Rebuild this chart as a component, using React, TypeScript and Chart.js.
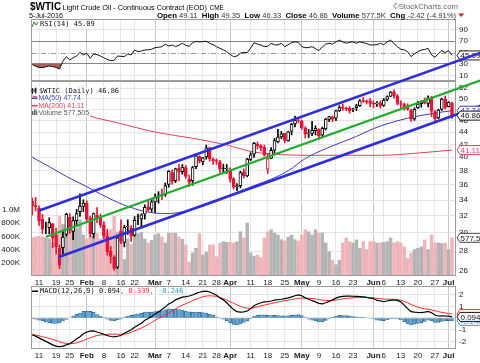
import React, { useEffect, useRef } from 'react';
import { Chart, registerables } from 'chart.js';

Chart.register(...registerables);

const FONT = 'Arial, "Liberation Sans", sans-serif';
const MONO = '"DejaVu Sans Mono", "Liberation Mono", monospace';

// ---------------- data (one entry per trading session, 7-Jan-2016 .. 5-Jul-2016) ----------------
const tickDays = [2, 7, 11, 16, 21, 26, 30, 36, 40, 45, 50, 54, 58, 64, 69, 74, 79, 84, 89, 94, 100, 103, 108, 113, 118, 122];
const tickLabels = ['11', '19', '25', 'Feb', '8', '16', '22', 'Mar', '7', '14', '21', '28', 'Apr', '11', '18', '25', 'May', '9', '16', '23', 'Jun', '6', '13', '20', '27', 'Jul'];

const opens = [
  33.86, 33.30, 32.94, 31.60, 30.48, 30.61, 31.05, 29.79, 28.33, 28.36, 29.84, 31.83, 30.17, 31.42, 32.53, 33.19,
  33.61, 31.70, 29.93, 32.10, 31.75, 30.95, 29.65, 28.00, 27.36, 26.35, 30.25, 28.94, 30.71, 30.57, 29.74, 31.88, 31.63, 32.22, 33.14, 32.85,
  33.75, 34.50, 34.70, 34.70, 36.06, 37.73, 36.61, 38.34, 37.87, 38.46, 36.82, 36.60, 38.60, 40.14, 39.32, 40.06, 41.50, 39.68, 39.51, 39.30, 38.37, 38.30,
  38.08, 36.88, 35.76, 35.91, 37.77, 37.25, 39.66, 40.46, 42.01, 41.83, 41.52, 38.24, 39.81, 41.08, 42.46, 43.22, 43.82, 42.58, 44.17, 45.40, 46.00,
  45.86, 44.74, 43.67, 43.79, 44.26, 44.50, 43.51, 44.57, 46.20, 46.62, 46.40, 47.73, 48.40, 48.18, 48.19, 47.97, 48.30, 48.67, 49.61, 49.50, 49.58,
  49.16, 49.00, 49.18, 48.69, 49.82, 50.40, 51.28, 50.54, 49.05, 48.86, 48.38, 47.84, 46.29, 48.30, 49.06, 49.34, 49.07, 50.09, 47.60, 46.43, 47.97, 49.87,
  48.50, 49.11,
];
const highs = [
  34.26, 34.34, 33.25, 32.21, 31.25, 31.78, 31.11, 30.54, 28.65, 30.25, 32.35, 32.29, 31.89, 32.80, 34.82, 34.03,
  33.89, 31.97, 32.35, 33.05, 32.24, 31.31, 30.42, 28.50, 27.52, 29.50, 31.53, 30.90, 31.53, 30.86, 31.92, 32.22, 32.28, 33.39, 34.04, 34.06,
  34.76, 35.10, 35.44, 36.27, 38.00, 38.14, 38.38, 38.98, 38.91, 38.78, 37.38, 38.64, 40.56, 40.23, 40.00, 41.90, 41.50, 39.93, 39.76, 39.53, 38.96, 38.92,
  38.44, 37.01, 36.20, 37.95, 38.27, 39.83, 40.70, 42.35, 42.40, 41.98, 41.89, 40.54, 41.48, 42.97, 44.49, 44.13, 43.82, 44.14, 45.49, 46.78, 46.49,
  46.05, 44.92, 44.47, 45.85, 45.08, 44.56, 44.86, 46.37, 46.75, 46.79, 47.86, 48.67, 48.98, 48.39, 48.49, 48.21, 48.92, 49.80, 50.21, 49.74, 50.00,
  49.55, 49.43, 49.58, 50.00, 50.53, 51.34, 51.67, 50.78, 49.58, 49.15, 49.03, 48.02, 48.27, 49.48, 49.58, 50.11, 50.50, 50.45, 47.77, 48.01, 50.06, 50.49,
  49.40, 49.35,
];
const lows = [
  32.10, 32.64, 30.88, 29.93, 29.93, 29.91, 28.36, 27.67, 26.19, 27.72, 29.63, 29.95, 29.25, 30.70, 31.94, 32.53,
  31.41, 29.55, 29.43, 31.20, 30.63, 29.35, 27.57, 26.75, 26.05, 26.20, 28.81, 28.45, 29.83, 29.05, 29.62, 30.95, 30.56, 31.61, 32.56, 32.50,
  32.43, 33.60, 34.04, 34.48, 35.69, 36.11, 36.31, 36.57, 37.50, 36.91, 35.78, 35.95, 38.30, 39.13, 38.84, 39.71, 39.40, 38.93, 38.91, 37.76, 37.75, 37.61,
  36.37, 35.44, 35.24, 35.61, 36.96, 37.13, 39.49, 39.96, 41.26, 40.99, 40.16, 37.61, 39.80, 40.63, 42.26, 42.93, 42.26, 42.51, 43.54, 44.87, 45.58,
  44.47, 43.03, 43.10, 43.41, 43.55, 42.80, 43.21, 44.37, 45.78, 45.78, 45.96, 47.61, 47.80, 47.72, 47.30, 47.55, 47.75, 48.51, 49.27, 48.97, 48.44,
  48.28, 48.51, 48.24, 48.53, 49.53, 50.35, 50.09, 48.80, 48.29, 47.83, 47.81, 45.83, 46.02, 48.15, 48.40, 48.98, 48.43, 46.69, 45.83, 46.32, 47.79, 48.05,
  48.45, 46.33,
];
const closes = [
  33.27, 33.16, 31.41, 30.44, 30.48, 31.20, 29.42, 28.46, 26.55, 29.53, 32.19, 30.34, 31.45, 32.30, 33.22, 33.62,
  31.62, 29.88, 32.28, 31.72, 30.89, 29.69, 27.94, 27.45, 26.21, 29.44, 29.04, 30.66, 30.77, 29.64, 31.48, 31.87, 32.15, 33.07, 32.78, 33.75,
  34.40, 34.66, 34.57, 35.92, 37.90, 36.50, 38.29, 37.84, 38.50, 37.18, 36.34, 38.46, 40.20, 39.44, 39.91, 41.45, 39.79, 39.46, 39.39, 38.28, 38.32, 38.34,
  36.79, 35.70, 35.89, 37.75, 37.26, 39.72, 40.36, 42.17, 41.76, 41.50, 40.36, 39.78, 41.08, 42.63, 43.18, 43.73, 42.64, 44.04, 45.33, 46.03, 45.92,
  44.78, 43.65, 43.78, 44.32, 44.66, 43.44, 44.66, 46.23, 46.70, 46.21, 47.72, 48.31, 48.19, 48.12, 47.75, 48.08, 48.62, 49.56, 49.48, 49.33, 49.10,
  49.01, 49.17, 48.62, 49.69, 50.36, 51.23, 50.56, 49.07, 48.88, 48.49, 48.01, 46.21, 47.98, 48.96, 49.37, 49.13, 50.11, 47.64, 46.33, 47.85, 49.88, 48.33,
  49.28, 46.86,
];
const volumesK = [
  580, 590, 600, 590, 580, 560, 500, 330, 900, 780, 700, 820, 700, 720, 850, 620,
  560, 600, 800, 640, 560, 620, 660, 700, 900, 660, 560, 250, 560, 480, 620, 640, 660, 560, 500, 540,
  620, 640, 590, 500, 650, 650, 650, 590, 555, 470, 210, 350, 420, 640, 320, 360, 470, 470, 290, 500, 520, 510,
  510, 500, 520, 670, 575, 800, 350, 300, 320, 280, 575, 670, 700, 650, 620, 550, 530, 590, 620, 550, 530,
  620, 700, 670, 620, 700, 650, 650, 500, 370, 240, 170, 240, 500, 575, 520, 500, 545, 420, 520, 400, 520,
  520, 500, 500, 510, 520, 575, 500, 520, 500, 440, 270, 350, 400, 420, 440, 545, 400, 620, 500, 500, 490, 500,
  400, 577.5,
];
const rsi = [
  29, 26, 24, 23.5, 25, 26.5, 25.5, 24, 21, 35,
  43, 37, 41, 44, 50.5, 46, 49, 40, 47.5, 46.5,
  44, 41, 38, 35.8, 36.5, 44, 43.5, 43, 47.6, 46,
  54.7, 51.7, 53, 54.7, 55, 56, 58.7, 59.5, 60.5, 65,
  61.7, 63.5, 60.5, 63, 66.5, 63, 61, 67.5, 70, 68.8,
  69.5, 70, 66.5, 64, 60.5, 57.6, 55, 51.7, 47, 43,
  44, 49, 50.6, 50, 58, 67.5, 65, 63.5, 60.5, 61,
  66.5, 64, 63.5, 66.5, 60.5, 64, 67.5, 69, 68, 60.5,
  58.7, 59, 60.5, 57, 53.5, 60, 65, 66.5, 65, 69,
  72, 69, 66.5, 68, 69, 66.5, 69, 67.5, 66, 63.5,
  63.5, 64, 66.5, 64, 69, 72, 66, 60.5, 56, 54.7,
  51.7, 43, 48, 51.7, 54.7, 55.5, 57.6, 46, 42, 48, 53.5, 50, 53.5, 45.09,
];
const macd = [
  -1.45, -1.55, -1.7, -1.85, -2.0, -2.15, -2.3, -2.4, -2.45, -2.4,
  -2.3, -2.2, -2.0, -1.8, -1.6, -1.35, -1.2, -1.12, -1.1, -1.2,
  -1.28, -1.4, -1.5, -1.58, -1.62, -1.56, -1.5, -1.3, -1.15, -1.0,
  -0.8, -0.62, -0.45, -0.2, -0.05, 0.12, 0.35, 0.52, 0.72, 0.95,
  1.2, 1.35, 1.55, 1.68, 1.78, 1.82, 1.88, 1.97, 2.1, 2.2,
  2.28, 2.3, 2.22, 2.1, 1.95, 1.72, 1.55, 1.3, 1.0, 0.72,
  0.55, 0.5, 0.52, 0.6, 0.8, 1.05, 1.2, 1.3, 1.38, 1.4,
  1.45, 1.52, 1.56, 1.6, 1.66, 1.72, 1.8, 1.9, 1.97, 1.9,
  1.72, 1.6, 1.48, 1.38, 1.25, 1.2, 1.3, 1.42, 1.55, 1.7,
  1.8, 1.84, 1.87, 1.88, 1.86, 1.84, 1.82, 1.8, 1.76, 1.7,
  1.66, 1.5, 1.45, 1.4, 1.45, 1.52, 1.54, 1.5, 1.38, 1.1,
  0.8, 0.55, 0.5, 0.47, 0.46, 0.5, 0.56, 0.45, 0.25, 0.17,
  0.18, 0.17, 0.16, 0.094,
];
const signal = [
  -1.37, -1.45, -1.52, -1.6, -1.67, -1.74, -1.83, -1.93, -2.03, -2.12,
  -2.18, -2.2, -2.18, -2.12, -2.03, -1.92, -1.8, -1.68, -1.58, -1.5,
  -1.45, -1.42, -1.4, -1.38, -1.38, -1.39, -1.4, -1.38, -1.32, -1.22,
  -1.1, -0.98, -0.85, -0.7, -0.55, -0.38, -0.2, -0.05, 0.1, 0.26,
  0.42, 0.6, 0.78, 0.95, 1.1, 1.22, 1.35, 1.48, 1.6, 1.72,
  1.82, 1.88, 1.9, 1.88, 1.84, 1.76, 1.65, 1.53, 1.4, 1.26,
  1.12, 1.0, 0.9, 0.84, 0.83, 0.88, 0.95, 1.03, 1.1, 1.17,
  1.24, 1.3, 1.36, 1.42, 1.48, 1.53, 1.58, 1.63, 1.68, 1.7,
  1.7, 1.69, 1.67, 1.63, 1.58, 1.53, 1.5, 1.49, 1.5, 1.53,
  1.58, 1.63, 1.67, 1.7, 1.73, 1.75, 1.77, 1.77, 1.76, 1.74,
  1.72, 1.68, 1.65, 1.62, 1.6, 1.6, 1.6, 1.58, 1.52, 1.42,
  1.3, 1.15, 1.03, 0.93, 0.85, 0.79, 0.75, 0.7, 0.62, 0.55,
  0.48, 0.43, 0.38, 0.339,
];
// moving averages read at every 5th session
const ma50Days = [0, 5, 10, 15, 20, 25, 30, 35, 40, 45, 50, 55, 60, 65, 70, 75, 80, 85, 90, 95, 100, 105, 110, 115, 120, 123];
const ma50 = [40.0, 38.6, 37.2, 36.0, 34.8, 33.7, 32.9, 32.4, 32.3, 32.6, 33.2, 34.0, 35.0, 35.9, 36.8, 38.0, 39.8, 41.1, 42.2, 43.3, 44.6, 45.6, 46.4, 47.0, 47.5, 47.74];
const ma200Days = [0, 10, 16, 25, 37, 47, 57, 64, 70, 82, 102, 112, 123];
const ma200 = [50.5, 49.0, 47.0, 45.6, 43.9, 43.0, 41.9, 40.9, 40.5, 40.3, 40.3, 40.6, 41.11];
// trend channel anchors: [session, price]
const upperChannel = [[2.3, 32.7], [101.9, 51.9]];
const midChannel = [[4.25, 29.6], [101.9, 46.7]];
const lowerChannel = [[8.0, 27.4], [101.9, 42.4]];

const priceTicks = [26, 28, 30, 32, 34, 36, 38, 40, 42, 44, 46, 48, 50, 52];
const volumeTicks = [200000, 400000, 600000, 800000, 1000000];
const rsiTicks = [10, 30, 50, 70, 90];
const macdTicks = [-2, -1, 0, 1, 2];

const headerLabels = ['Open', 'High', 'Low', 'Close', 'Volume', 'Chg'];
const headerValues = ['49.11', '49.35', '46.33', '46.86', '577.5K', '-2.42 (-4.91%)'];

// ---------------- styling ----------------
const X_MIN = -0.35;
const X_MAX = 124.17;
const RED = 'rgb(226, 22, 52)';
const BLUE_CH = 'rgb(46, 46, 220)';
const GREEN_CH = 'rgb(34, 172, 46)';
const MA50_C = 'rgb(60, 60, 185)';
const MA200_C = 'rgb(228, 62, 90)';
const VOL_DOWN = 'rgb(238, 180, 186)';
const VOL_UP = 'rgb(180, 180, 180)';

const isMonth = (v: any) => {
  const k = tickDays.indexOf(v);
  return k >= 0 && /[A-Za-z]/.test(tickLabels[k]);
};
const isDown = (i: number) => (i > 0 ? closes[i] < closes[i - 1] : closes[i] < opens[i]);
const candleColor = (i: number) => (isDown(i) ? RED : '#000');
const candleFill = (i: number) => (closes[i] < opens[i] ? candleColor(i) : '#fff');

function xAxis(show: boolean, h: number): any {
  return {
    type: 'linear',
    min: X_MIN,
    max: X_MAX,
    offset: false,
    afterBuildTicks: (s: any) => { s.ticks = tickDays.map((v) => ({ value: v })); },
    afterFit: (s: any) => { s.height = h; s.paddingLeft = 0; s.paddingRight = 0; },
    ticks: {
      display: show,
      autoSkip: false,
      maxRotation: 0,
      minRotation: 0,
      padding: 2,
      color: '#1a1a1a',
      callback: (v: any) => { const k = tickDays.indexOf(v); return k >= 0 ? tickLabels[k] : ''; },
      font: (c: any) => ({ family: FONT, size: 8, weight: isMonth(c.tick && c.tick.value) ? 'bold' : 'normal' }),
    },
    grid: { offset: false, drawTicks: false, color: (c: any) => (isMonth(c.tick && c.tick.value) ? '#c8c8c8' : '#e6e6e6') },
    border: { display: false },
  };
}

function rightAxis(min: number, max: number, ticks: number[], extra: any = {}): any {
  return {
    type: 'linear',
    position: 'right',
    min,
    max,
    afterBuildTicks: (s: any) => { s.ticks = ticks.map((v) => ({ value: v })); },
    afterFit: (s: any) => { s.width = 24; s.paddingTop = 0; s.paddingBottom = 0; },
    ticks: { padding: 3, color: '#1a1a1a', font: { family: FONT, size: 8 }, callback: (v: any) => String(v) },
    grid: { drawTicks: false, color: '#e4e4e4' },
    border: { display: false },
    ...extra,
  };
}

function frame(chart: any) {
  const { ctx, chartArea: a } = chart;
  ctx.save();
  ctx.strokeStyle = '#9c9c9c';
  ctx.lineWidth = 1;
  ctx.strokeRect(Math.round(a.left) + 0.5, Math.round(a.top) + 0.5, Math.round(a.right - a.left) - 1, Math.round(a.bottom - a.top) - 1);
  ctx.restore();
}

function drawTag(ctx: any, y: number, text: string, stroke: string, color: string) {
  const x = 457;
  const h = 9;
  ctx.save();
  ctx.beginPath();
  ctx.moveTo(x, y);
  ctx.lineTo(x + 3, y - h / 2);
  ctx.lineTo(483, y - h / 2);
  ctx.lineTo(483, y + h / 2);
  ctx.lineTo(x + 3, y + h / 2);
  ctx.closePath();
  ctx.fillStyle = '#fff';
  ctx.fill();
  ctx.strokeStyle = stroke;
  ctx.lineWidth = 1;
  ctx.stroke();
  ctx.fillStyle = color;
  ctx.font = `8px ${FONT}`;
  ctx.textBaseline = 'middle';
  ctx.textAlign = 'left';
  ctx.fillText(text, x + 3.5, y + 0.5);
  ctx.restore();
}

function textWithBg(ctx: any, text: string, x: number, y: number, color: string, font: string) {
  ctx.font = font;
  const w = ctx.measureText(text).width;
  ctx.fillStyle = '#fff';
  ctx.fillRect(x - 1, y - 3.5, w + 2, 7.5);
  ctx.fillStyle = color;
  ctx.fillText(text, x, y);
  return w;
}

// ---------------- plugins ----------------
const rsiPlugin = {
  id: 'rsiPanel',
  beforeDatasetsDraw(chart: any) {
    const { ctx, chartArea: a } = chart;
    const y = Math.round(chart.scales.y.getPixelForValue(50)) + 0.5;
    ctx.save();
    ctx.setLineDash([5, 2, 1, 2]);
    ctx.strokeStyle = '#9a9a9a';
    ctx.lineWidth = 1;
    ctx.beginPath();
    ctx.moveTo(a.left, y);
    ctx.lineTo(a.right, y);
    ctx.stroke();
    ctx.restore();
  },
  afterDatasetsDraw(chart: any) {
    const { ctx } = chart;
    frame(chart);
    ctx.save();
    ctx.textBaseline = 'middle';
    ctx.strokeStyle = '#2a7a2a';
    ctx.lineWidth = 1;
    ctx.beginPath();
    ctx.moveTo(32, 27); ctx.lineTo(34, 22); ctx.lineTo(36, 25); ctx.lineTo(38, 22);
    ctx.stroke();
    textWithBg(ctx, 'RSI(14) 45.09', 40, 24.5, '#111', `7px ${MONO}`);
    ctx.restore();
  },
  afterDraw(chart: any) {
    const { ctx } = chart;
    ctx.save();
    ctx.textBaseline = 'alphabetic';
    ctx.textAlign = 'left';
    ctx.fillStyle = '#000';
    ctx.font = `bold 10px ${FONT}`;
    ctx.fillText('$WTIC', 30, 10);
    let x = 30 + ctx.measureText('$WTIC').width + 1.5;
    ctx.font = `7.3px ${FONT}`;
    const t = 'Light Crude Oil - Continuous Contract (EOD)';
    ctx.fillText(t, x, 10);
    x += ctx.measureText(t).width + 2.5;
    ctx.font = `6.5px ${FONT}`;
    ctx.fillText('CME', x, 10);
    ctx.fillStyle = '#666';
    ctx.font = `7.8px ${FONT}`;
    ctx.textAlign = 'right';
    ctx.fillText('\u00A9StockCharts.com', 458, 9.3);
    ctx.textAlign = 'left';
    ctx.fillStyle = '#000';
    ctx.font = `7.2px ${FONT}`;
    ctx.fillText('5-Jul-2016', 29, 17.5);
    let hx = 157;
    headerLabels.forEach((lab, k) => {
      ctx.font = `bold 7.8px ${FONT}`;
      ctx.fillStyle = '#000';
      ctx.fillText(lab, hx, 17.5);
      hx += ctx.measureText(lab + ' ').width;
      ctx.font = `7.6px ${FONT}`;
      ctx.fillStyle = '#333';
      ctx.fillText(headerValues[k], hx, 17.5);
      hx += ctx.measureText(headerValues[k] + '  ').width;
    });
    ctx.fillStyle = RED;
    ctx.beginPath();
    ctx.moveTo(hx - 2, 13.5); ctx.lineTo(hx + 4, 13.5); ctx.lineTo(hx + 1, 17);
    ctx.closePath();
    ctx.fill();
    ctx.restore();
    drawTag(ctx, chart.scales.y.getPixelForValue(rsi[rsi.length - 1]), '45.09', '#222', '#111');
  },
};

const pricePlugin = {
  id: 'pricePanel',
  afterDatasetsDraw(chart: any) {
    const { ctx } = chart;
    frame(chart);
    ctx.save();
    ctx.textBaseline = 'middle';
    ctx.textAlign = 'left';
    // candle icon
    ctx.fillStyle = '#222';
    ctx.fillRect(32, 88, 1, 6); ctx.fillRect(31.5, 89, 2, 3);
    ctx.fillRect(35, 87.5, 1, 6); ctx.fillRect(34.5, 88.5, 2, 4);
    textWithBg(ctx, '$WTIC (Daily) 46.86', 39, 91, '#111', `7px ${MONO}`);
    ctx.fillStyle = MA50_C; ctx.fillRect(32, 97.5, 6, 1.5);
    textWithBg(ctx, 'MA(50) 47.74', 38.5, 98.3, MA50_C, `7px ${FONT}`);
    ctx.fillStyle = MA200_C; ctx.fillRect(32, 105, 6, 1.5);
    textWithBg(ctx, 'MA(200) 41.11', 38.5, 105.6, MA200_C, `7px ${FONT}`);
    ctx.fillStyle = '#666';
    ctx.fillRect(32, 111, 1.5, 4); ctx.fillRect(34, 109.5, 1.5, 5.5); ctx.fillRect(36, 110.5, 1.5, 4.5);
    textWithBg(ctx, 'Volume 577,505', 38.5, 112.9, '#555', `7px ${FONT}`);
    ctx.restore();
  },
  afterDraw(chart: any) {
    const { ctx } = chart;
    const xs = chart.scales.x;
    const ys = chart.scales.y;
    const lines: any[] = [[upperChannel, BLUE_CH, 2.6], [midChannel, GREEN_CH, 2.2], [lowerChannel, BLUE_CH, 2.6]];
    ctx.save();
    ctx.lineCap = 'round';
    for (const [pts, color, w] of lines) {
      const x1 = xs.getPixelForValue(pts[0][0]);
      const y1 = ys.getPixelForValue(pts[0][1]);
      const x2 = xs.getPixelForValue(pts[1][0]);
      const y2 = ys.getPixelForValue(pts[1][1]);
      const xe = chart.width;
      const ye = y1 + ((y2 - y1) / (x2 - x1)) * (xe - x1);
      ctx.beginPath();
      ctx.moveTo(x1, y1);
      ctx.lineTo(xe, ye);
      ctx.strokeStyle = color;
      ctx.lineWidth = w;
      ctx.stroke();
    }
    ctx.restore();
    drawTag(ctx, ys.getPixelForValue(ma50[ma50.length - 1]), '47.74', MA50_C, MA50_C);
    drawTag(ctx, ys.getPixelForValue(closes[closes.length - 1]), '46.86', '#111', '#111');
    drawTag(ctx, ys.getPixelForValue(ma200[ma200.length - 1]), '41.11', MA200_C, MA200_C);
    drawTag(ctx, chart.scales.yv.getPixelForValue(volumesK[volumesK.length - 1] * 1000), '577,505', '#444', '#222');
  },
};

const macdPlugin = {
  id: 'macdPanel',
  afterDatasetsDraw(chart: any) {
    const { ctx } = chart;
    frame(chart);
    ctx.save();
    ctx.textBaseline = 'middle';
    ctx.textAlign = 'left';
    ctx.fillStyle = '#000';
    ctx.fillRect(32, 10.5, 6, 1.5);
    ctx.font = `7px ${MONO}`;
    let x = 40;
    const parts: any[] = [['MACD(12,26,9) 0.094', '#111'], [', 0.339', '#ff3030'], [', -0.246', '#3399cc']];
    for (const [t, c] of parts) {
      ctx.fillStyle = c;
      ctx.fillText(t, x, 11.3);
      x += ctx.measureText(t).width;
    }
    ctx.restore();
  },
  afterDraw(chart: any) {
    const { ctx } = chart;
    const ys = chart.scales.y;
    drawTag(ctx, ys.getPixelForValue(signal[signal.length - 1]), '0.339', '#ff3030', '#ff3030');
    drawTag(ctx, ys.getPixelForValue(macd[macd.length - 1] - signal[signal.length - 1]), '-0.246', '#3399cc', '#3399cc');
    drawTag(ctx, ys.getPixelForValue(macd[macd.length - 1]), '0.094', '#111', '#111');
  },
};

const common: any = {
  animation: false,
  responsive: false,
  devicePixelRatio: 1,
  events: [],
  plugins: { legend: { display: false }, tooltip: { enabled: false }, title: { display: false } },
};

export default function App() {
  const rsiRef = useRef<HTMLCanvasElement>(null);
  const priceRef = useRef<HTMLCanvasElement>(null);
  const macdRef = useRef<HTMLCanvasElement>(null);

  useEffect(() => {
    const charts: Chart[] = [];

    charts.push(new Chart(rsiRef.current as HTMLCanvasElement, {
      type: 'line',
      data: {
        datasets: [{
          label: 'RSI(14)',
          data: rsi.map((v, i) => ({ x: i, y: v })),
          borderColor: '#111',
          borderWidth: 1,
          pointRadius: 0,
          tension: 0,
          fill: { target: { value: 30 }, above: 'rgba(0,0,0,0)', below: 'rgb(170, 96, 86)' },
        }],
      },
      options: {
        ...common,
        layout: { padding: { top: 19, left: 31, right: 0, bottom: 0 } },
        scales: {
          x: xAxis(false, 0),
          y: rightAxis(0, 109.3, rsiTicks, {
            grid: {
              drawTicks: false,
              color: (c: any) => {
                const v = c.tick && c.tick.value;
                if (v === 30 || v === 70) return '#858585';
                if (v === 50) return 'rgba(0,0,0,0)';
                return '#e4e4e4';
              },
            },
          }),
        },
      } as any,
      plugins: [rsiPlugin as any],
    } as any));

    charts.push(new Chart(priceRef.current as HTMLCanvasElement, {
      type: 'bar',
      data: {
        datasets: [
          {
            type: 'bar', label: 'Volume', yAxisID: 'yv',
            data: volumesK.map((v, i) => ({ x: i, y: v * 1000 })),
            backgroundColor: volumesK.map((_, i) => (isDown(i) ? VOL_DOWN : VOL_UP)),
            barThickness: 2.8, grouped: false, order: 10,
          },
          {
            type: 'line', label: 'MA(200)', yAxisID: 'y',
            data: ma200Days.map((d, k) => ({ x: d, y: ma200[k] })),
            borderColor: MA200_C, borderWidth: 1, pointRadius: 0, cubicInterpolationMode: 'monotone', order: 6,
          },
          {
            type: 'line', label: 'MA(50)', yAxisID: 'y',
            data: ma50Days.map((d, k) => ({ x: d, y: ma50[k] })),
            borderColor: MA50_C, borderWidth: 1, pointRadius: 0, cubicInterpolationMode: 'monotone', order: 5,
          },
          {
            type: 'bar', label: 'Range', yAxisID: 'y',
            data: lows.map((l, i) => ({ x: i, y: [l, highs[i]] })),
            backgroundColor: closes.map((_, i) => candleColor(i)),
            barThickness: 1, grouped: false, order: 3,
          },
          {
            type: 'bar', label: 'Body', yAxisID: 'y',
            data: opens.map((o, i) => ({ x: i, y: [o, closes[i]] })),
            backgroundColor: closes.map((_, i) => candleFill(i)),
            borderColor: closes.map((_, i) => candleColor(i)),
            borderWidth: 1, borderSkipped: false, barThickness: 3, grouped: false, order: 2,
          },
        ],
      },
      options: {
        ...common,
        layout: { padding: { top: 81, left: 0, right: 0, bottom: 0 } },
        scales: {
          x: xAxis(true, 14),
          y: rightAxis(25.47, 53.45, priceTicks, { type: 'logarithmic' }),
          yv: {
            type: 'linear',
            position: 'left',
            min: 0,
            max: 2950000,
            afterBuildTicks: (s: any) => { s.ticks = volumeTicks.map((v) => ({ value: v })); },
            afterFit: (s: any) => { s.width = 31; s.paddingTop = 0; s.paddingBottom = 0; },
            ticks: {
              padding: 3, color: '#1a1a1a', font: { family: FONT, size: 8 },
              callback: (v: any) => (v >= 1000000 ? (v / 1000000).toFixed(1) + 'M' : v / 1000 + 'K'),
            },
            grid: { display: false },
            border: { display: false },
          },
        },
      } as any,
      plugins: [pricePlugin as any],
    } as any));

    charts.push(new Chart(macdRef.current as HTMLCanvasElement, {
      type: 'bar',
      data: {
        datasets: [
          {
            type: 'bar', label: 'Histogram',
            data: macd.map((m, i) => ({ x: i, y: m - signal[i] })),
            backgroundColor: 'rgb(104, 172, 214)', borderColor: 'rgb(42, 104, 156)', borderWidth: 0.8,
            borderSkipped: false, barThickness: 3, grouped: false, order: 5,
          },
          {
            type: 'line', label: 'Signal',
            data: signal.map((v, i) => ({ x: i, y: v })),
            borderColor: 'rgb(255, 40, 40)', borderWidth: 1, pointRadius: 0, order: 2,
          },
          {
            type: 'line', label: 'MACD',
            data: macd.map((v, i) => ({ x: i, y: v })),
            borderColor: '#000', borderWidth: 1.2, pointRadius: 0, order: 1,
          },
        ],
      },
      options: {
        ...common,
        layout: { padding: { top: 6, left: 31, right: 0, bottom: 0 } },
        scales: {
          x: xAxis(true, 14),
          y: rightAxis(-2.65, 2.735, macdTicks),
        },
      } as any,
      plugins: [macdPlugin as any],
    } as any));

    return () => charts.forEach((c) => c.destroy());
  }, []);

  return (
    <div style={{ position: 'absolute', left: 0, top: 0, width: 480, height: 363, background: '#fff', overflow: 'hidden' }}>
      <canvas ref={rsiRef} width={480} height={81} style={{ position: 'absolute', left: 0, top: 0, zIndex: 1 }} />
      <canvas ref={priceRef} width={480} height={290} style={{ position: 'absolute', left: 0, top: 0, zIndex: 2 }} />
      <canvas ref={macdRef} width={480} height={83} style={{ position: 'absolute', left: 0, top: 280, zIndex: 3 }} />
    </div>
  );
}
